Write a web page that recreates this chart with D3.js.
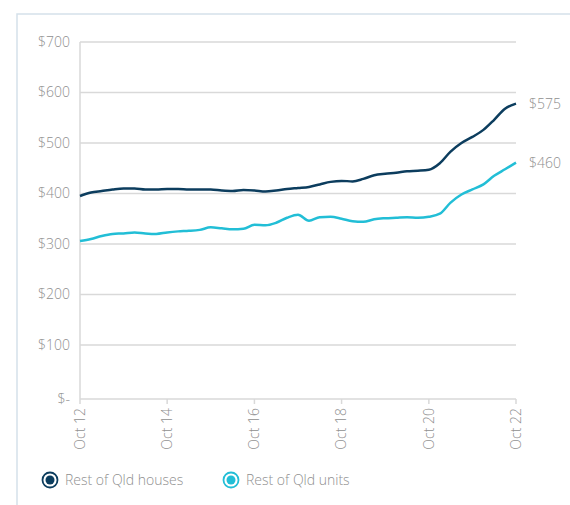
<!DOCTYPE html>
<html>
<head>
<meta charset="utf-8">
<script src="https://cdn.jsdelivr.net/npm/d3@7"></script>
<style>
    body { margin: 0; background: #fff; }
    svg { display: block; font-family: "Open Sans", "Noto Sans", sans-serif; font-weight: 300; }
</style>
</head>
<body>
<svg id="drawing_region"></svg>
<script>
// quarterly readings, Oct 2012 .. Oct 2022
const startDate = new Date(2012, 9, 1);
const houses = [395, 402, 405, 408, 410, 410, 408, 408, 409, 409, 408, 408, 408, 406, 405, 407,
    406, 404, 406, 409, 411, 413, 418, 423, 425, 424, 429, 436, 439, 441, 444, 445,
    447, 460, 483, 500, 512, 526, 546, 568, 578];
const units = [306, 310, 316, 320, 321, 323, 321, 320, 323, 325, 326, 328, 333, 331, 329, 330,
    338, 337, 342, 352, 358, 346, 353, 354, 350, 345, 344, 349, 351, 352, 353, 352,
    354, 360, 382, 398, 408, 418, 435, 448, 461];
const endLabels = ["$575", "$460"];
const seriesNames = ["Rest of Qld houses", "Rest of Qld units"];
const yTicks = [100, 200, 300, 400, 500, 600, 700];
const xTickYears = [2012, 2014, 2016, 2018, 2020, 2022];

const colors = ["#0c3d5e", "#22bed6"];
const textColor = "#8f8f8f";

const svg = d3.select("#drawing_region")
    .attr("width", 570)
    .attr("height", 505);

// frame
svg.append("path")
    .attr("d", "M17,505 V14 H570")
    .attr("fill", "none")
    .attr("stroke", "#d5e1ea")
    .attr("stroke-width", 1.5);

const x = d3.scaleTime()
    .domain([startDate, new Date(2022, 9, 1)])
    .range([80, 516]);

const y = d3.scaleLinear()
    .domain([0, 700])
    .range([395.5, 42]);

const baseY = 399;

const toPoints = vals => vals.map((v, i) => ({ date: d3.timeMonth.offset(startDate, i * 3), value: v }));
const series = [toPoints(houses), toPoints(units)];

// gridlines
svg.append("g")
    .selectAll("line")
    .data(yTicks)
    .enter()
    .append("line")
    .attr("x1", 80)
    .attr("x2", 516)
    .attr("y1", d => y(d))
    .attr("y2", d => y(d))
    .attr("stroke", "#d9d9d9")
    .attr("stroke-width", 1.5);

// axis lines
svg.append("line")
    .attr("x1", 80).attr("x2", 80)
    .attr("y1", 42).attr("y2", baseY)
    .attr("stroke", "#d9d9d9").attr("stroke-width", 1.5);
svg.append("line")
    .attr("x1", 80).attr("x2", 516)
    .attr("y1", baseY).attr("y2", baseY)
    .attr("stroke", "#d9d9d9").attr("stroke-width", 1.5);

// y labels
svg.append("g")
    .selectAll("text")
    .data([0].concat(yTicks))
    .enter()
    .append("text")
    .attr("x", 70)
    .attr("y", d => d === 0 ? baseY : y(d))
    .attr("dy", "0.35em")
    .attr("text-anchor", "end")
    .attr("font-size", "14px")
    .attr("fill", textColor)
    .text(d => d === 0 ? "$-" : "$" + d);

// x ticks and labels
const xTicks = xTickYears.map(yr => new Date(yr, 9, 1));
svg.append("g")
    .selectAll("line")
    .data(xTicks)
    .enter()
    .append("line")
    .attr("x1", d => x(d)).attr("x2", d => x(d))
    .attr("y1", baseY).attr("y2", baseY + 5)
    .attr("stroke", "#d9d9d9").attr("stroke-width", 1.5);

svg.append("g")
    .selectAll("text")
    .data(xTicks)
    .enter()
    .append("text")
    .attr("transform", d => `translate(${x(d)}, ${baseY + 9}) rotate(-90)`)
    .attr("dy", "0.35em")
    .attr("text-anchor", "end")
    .attr("font-size", "14px")
    .attr("fill", textColor)
    .text(d => "Oct " + d3.timeFormat("%y")(d));

// lines
const line = d3.line()
    .x(d => x(d.date))
    .y(d => y(d.value))
    .curve(d3.curveMonotoneX);

svg.append("g")
    .selectAll("path")
    .data(series)
    .enter()
    .append("path")
    .attr("d", line)
    .attr("fill", "none")
    .attr("stroke", (d, i) => colors[i])
    .attr("stroke-width", 2.5)
    .attr("stroke-linejoin", "round");

// end labels
svg.append("g")
    .selectAll("text")
    .data(series)
    .enter()
    .append("text")
    .attr("x", 529)
    .attr("y", (d, i) => i === 0 ? 104 : 163)
    .attr("dy", "0.35em")
    .attr("font-size", "14px")
    .attr("fill", textColor)
    .text((d, i) => endLabels[i]);

// legend
const legend = svg.append("g")
    .selectAll("g")
    .data(seriesNames)
    .enter()
    .append("g")
    .attr("transform", (d, i) => `translate(${i === 0 ? 50 : 231}, 480)`);

legend.append("circle")
    .attr("r", 7.5)
    .attr("fill", "#fff")
    .attr("stroke", (d, i) => colors[i])
    .attr("stroke-width", 1.8);
legend.append("circle")
    .attr("r", 4.5)
    .attr("fill", (d, i) => colors[i]);
legend.append("text")
    .attr("x", 15)
    .attr("dy", "0.35em")
    .attr("font-size", "14px")
    .attr("fill", textColor)
    .text(d => d);
</script>
</body>
</html>
